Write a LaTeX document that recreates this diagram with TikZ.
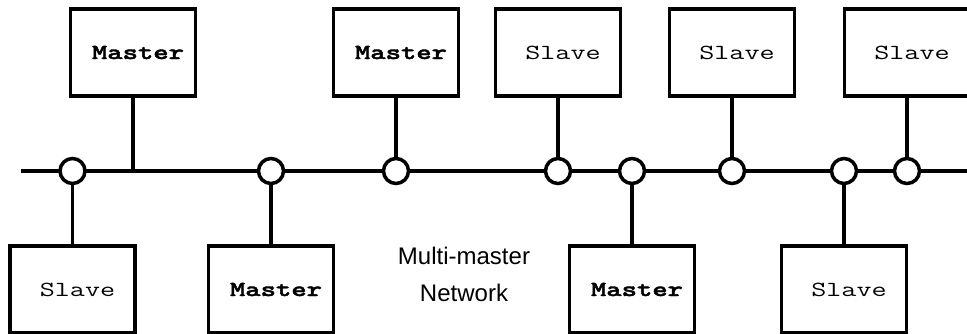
\documentclass[tikz,border=0pt]{standalone}
\usepackage{fontspec}
\usepackage{graphicx}
\setsansfont{Liberation Sans}
\newfontfamily\boldmono{lmmonolt10-bold.otf}[FakeBold=1.6]
\usetikzlibrary{calc}
\newcommand{\boxtext}[1]{\hspace*{10pt}\scalebox{1.36}[1]{#1}}

\begin{document}
\begin{tikzpicture}[x=1pt,y=-1pt,node distance=0cm,outer sep=0pt,line width=3.5pt]
\tikzstyle{box}=[draw, fill=white, minimum width=125pt, minimum height=87pt,
    text centered, font=\ttfamily\fontsize{21.5}{26}\selectfont]
\tikzstyle{tap}=[draw, circle, fill=white, inner sep=0pt, minimum size=25pt]
    \useasboundingbox (0,0) rectangle (967,333);
    \clip (0,0) rectangle (967,333);
    % bus
    \coordinate (busL) at (21,171);
    \coordinate (busR) at (980,171);
    \draw (busL) -- (busR);
    % top row
    \node (m1) [box] at (133,52.5) {\boxtext{\boldmono Master}};
    \node (m3) [box] at (396,52.5) {\boxtext{\boldmono Master}};
    \node (s2) [box] at (558,52.5) {\boxtext{Slave}};
    \node (s3) [box] at (732,52.5) {\boxtext{Slave}};
    \node (s5) [box] at (907,52.5) {\boxtext{Slave}};
    % bottom row
    \node (s1) [box] at (72.5,289.5) {\boxtext{Slave}};
    \node (m2) [box] at (271,289.5) {\boxtext{\boldmono Master}};
    \node (m4) [box] at (632,289.5) {\boxtext{\boldmono Master}};
    \node (s4) [box] at (844,289.5) {\boxtext{Slave}};
    % taps
    \node (c1) [tap] at (s1 |- busL) {};
    \node (c2) [tap] at (m2 |- busL) {};
    \node (c3) [tap] at (m3 |- busL) {};
    \node (c4) [tap] at (s2 |- busL) {};
    \node (c5) [tap] at (m4 |- busL) {};
    \node (c6) [tap] at (s3 |- busL) {};
    \node (c7) [tap] at (s4 |- busL) {};
    \node (c8) [tap] at (s5 |- busL) {};
    \draw (m1.south) -- (m1.south |- busL);
    \draw (c1) -- (s1);
    \draw (c2) -- (m2);
    \draw (c3) -- (m3);
    \draw (c4) -- (s2);
    \draw (c5) -- (m4);
    \draw (c6) -- (s3);
    \draw (c7) -- (s4);
    \draw (c8) -- (s5);
    \node (net) [align=center, font=\sffamily\fontsize{24}{37}\selectfont] at (464,274) {Multi-master\\Network};
\end{tikzpicture}
\end{document}
